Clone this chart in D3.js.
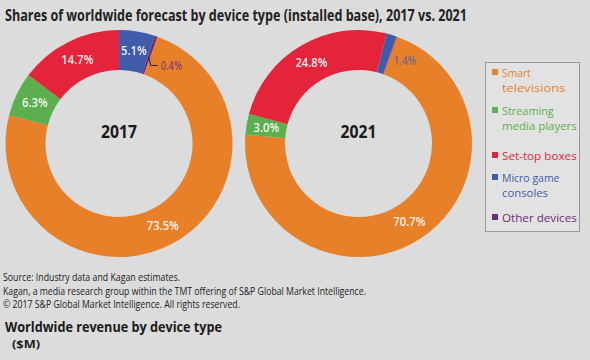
<!DOCTYPE html>
<html>
<head>
<meta charset="utf-8">
<script src="https://cdn.jsdelivr.net/npm/d3@7"></script>
<style>
  html, body { margin: 0; padding: 0; background: #dcdcdc; }
  svg { display: block; }
  text { font-family: "Open Sans", "Noto Sans", sans-serif; }
</style>
</head>
<body>
<svg id="chart" width="590" height="360"></svg>
<script>
// ---- Data ----
const categories = ["Smart televisions", "Streaming media players", "Set-top boxes", "Micro game consoles", "Other devices"];
const legendLines = [["Smart", "televisions"], ["Streaming", "media players"], ["Set-top boxes"], ["Micro game", "consoles"], ["Other devices"]];
const colors = ["#e8802a", "#5dae4e", "#e3243a", "#3f5baa", "#6e2c7e"];
const years = ["2017", "2021"];
const values2017 = [73.5, 6.3, 14.7, 5.1, 0.4];
const values2021 = [70.7, 3.0, 24.8, 1.4, 0.1];
const labels2017 = ["73.5%", "6.3%", "14.7%", "5.1%", "0.4%"];
const labels2021 = ["70.7%", "3.0%", "24.8%", "1.4%", ""];
const titleText = "Shares of worldwide forecast by device type (installed base), 2017 vs. 2021";
const footerLines = [
  "Source: Industry data and Kagan estimates.",
  "Kagan, a media research group within the TMT offering of S&P Global Market Intelligence.",
  "\u00a9 2017 S&P Global Market Intelligence. All rights reserved."
];
const subTitle = "Worldwide revenue by device type";
const unitText = "($M)";

// ---- Layout ----
const svg = d3.select("#chart");
const W = 590, H = 360;
svg.append("rect").attr("width", W).attr("height", H).attr("fill", "#dcdcdc");

svg.append("text").attr("x", 5).attr("y", 21)
  .attr("font-size", 15.5).attr("font-weight", 700).attr("fill", "#222")
  .attr("textLength", 462).attr("lengthAdjust", "spacingAndGlyphs")
  .text(titleText);

const outerR = 113.5, innerR = 73.5;
const startA = 19.8 * Math.PI / 180;
const pie = d3.pie().sort(null).startAngle(startA).endAngle(startA + 2 * Math.PI);
const arc = d3.arc().innerRadius(innerR).outerRadius(outerR);
const midR = (innerR + outerR) / 2;
const labelArc = d3.arc().innerRadius(midR).outerRadius(midR);

const centers = d3.scalePoint().domain(years).range([119, 358.5]);
const cy = 143.5;

const donuts = [
  { year: "2017", values: values2017, labels: labels2017 },
  { year: "2021", values: values2021, labels: labels2021 }
];

donuts.forEach(d => {
  const g = svg.append("g").attr("transform", `translate(${centers(d.year)},${cy})`);
  const arcs = pie(d.values);
  g.selectAll("path.slice").data(arcs).join("path")
    .attr("class", "slice")
    .attr("d", arc)
    .attr("fill", (a, i) => colors[i]);

  arcs.forEach((a, i) => {
    const txt = d.labels[i];
    if (!txt) return;
    const span = a.endAngle - a.startAngle;
    if (span > 0.12) {
      const [x, y] = labelArc.centroid(a);
      g.append("text").attr("x", x).attr("y", y + 4)
        .attr("text-anchor", "middle").attr("font-size", 12).attr("font-weight", 600)
        .attr("fill", "#fff").attr("fill-opacity", 0.92)
        .attr("textLength", txt.length * 6.4).attr("lengthAdjust", "spacingAndGlyphs")
        .text(txt);
    } else if (i === 4) {
      const mid = (a.startAngle + a.endAngle) / 2;
      const p0 = [Math.sin(mid) * 91, -Math.cos(mid) * 91];
      const p1 = [p0[0] + 2, p0[1] + 8];
      const p2 = [p1[0] + 7, p1[1]];
      g.append("path").attr("d", d3.line()([p0, p1, p2]))
        .attr("fill", "none").attr("stroke", "#2a1a2a").attr("stroke-width", 1);
      g.append("text").attr("x", p2[0] + 3).attr("y", p2[1] + 4)
        .attr("font-size", 12).attr("font-weight", 600).attr("fill", colors[i]).attr("fill-opacity", 0.75)
        .attr("textLength", txt.length * 5.3).attr("lengthAdjust", "spacingAndGlyphs")
        .text(txt);
    } else {
      const ang = a.endAngle + 0.17;
      const x = Math.sin(ang) * 95, y = -Math.cos(ang) * 95;
      g.append("text").attr("x", x).attr("y", y + 4)
        .attr("text-anchor", "middle").attr("font-size", 12).attr("font-weight", 600)
        .attr("fill", colors[i]).attr("fill-opacity", 0.7)
        .attr("textLength", txt.length * 5.6).attr("lengthAdjust", "spacingAndGlyphs")
        .text(txt);
    }
  });

  g.append("text").attr("x", 0).attr("y", -6)
    .attr("text-anchor", "middle").attr("font-size", 17).attr("font-weight", 700).attr("fill", "#1a1a1a")
    .attr("textLength", 36).attr("lengthAdjust", "spacingAndGlyphs")
    .text(d.year);
});

// ---- Legend ----
const lg = svg.append("g");
lg.append("rect").attr("x", 485.5).attr("y", 62.5).attr("width", 94).attr("height", 169)
  .attr("fill", "#e2e2e2").attr("stroke", "#9a9a9a").attr("stroke-width", 1);
const itemY = [77, 115, 160, 182, 222];
legendLines.forEach((lines, i) => {
  lg.append("rect").attr("x", 492).attr("y", itemY[i] - 8).attr("width", 6).attr("height", 6)
    .attr("fill", colors[i]);
  lines.forEach((ln, j) => {
    lg.append("text").attr("x", 502).attr("y", itemY[i] + j * 15)
      .attr("font-size", 11).attr("fill", colors[i])
      .attr("textLength", ln.length * 5.75).attr("lengthAdjust", "spacingAndGlyphs")
      .text(ln);
  });
});

// ---- Footer ----
const footerW = [177, 363, 237];
footerLines.forEach((t, i) => {
  svg.append("text").attr("x", 3).attr("y", 281 + i * 13.5)
    .attr("font-size", 10).attr("fill", "#222")
    .attr("textLength", footerW[i]).attr("lengthAdjust", "spacingAndGlyphs")
    .text(t);
});
svg.append("text").attr("x", 5).attr("y", 332)
  .attr("font-size", 15).attr("font-weight", 700).attr("fill", "#1a1a1a")
  .attr("textLength", 217).attr("lengthAdjust", "spacingAndGlyphs")
  .text(subTitle);
svg.append("text").attr("x", 12).attr("y", 348)
  .attr("font-size", 11).attr("font-weight", 700).attr("fill", "#1a1a1a")
  .attr("textLength", 28).attr("lengthAdjust", "spacingAndGlyphs")
  .text(unitText);
</script>
</body>
</html>
